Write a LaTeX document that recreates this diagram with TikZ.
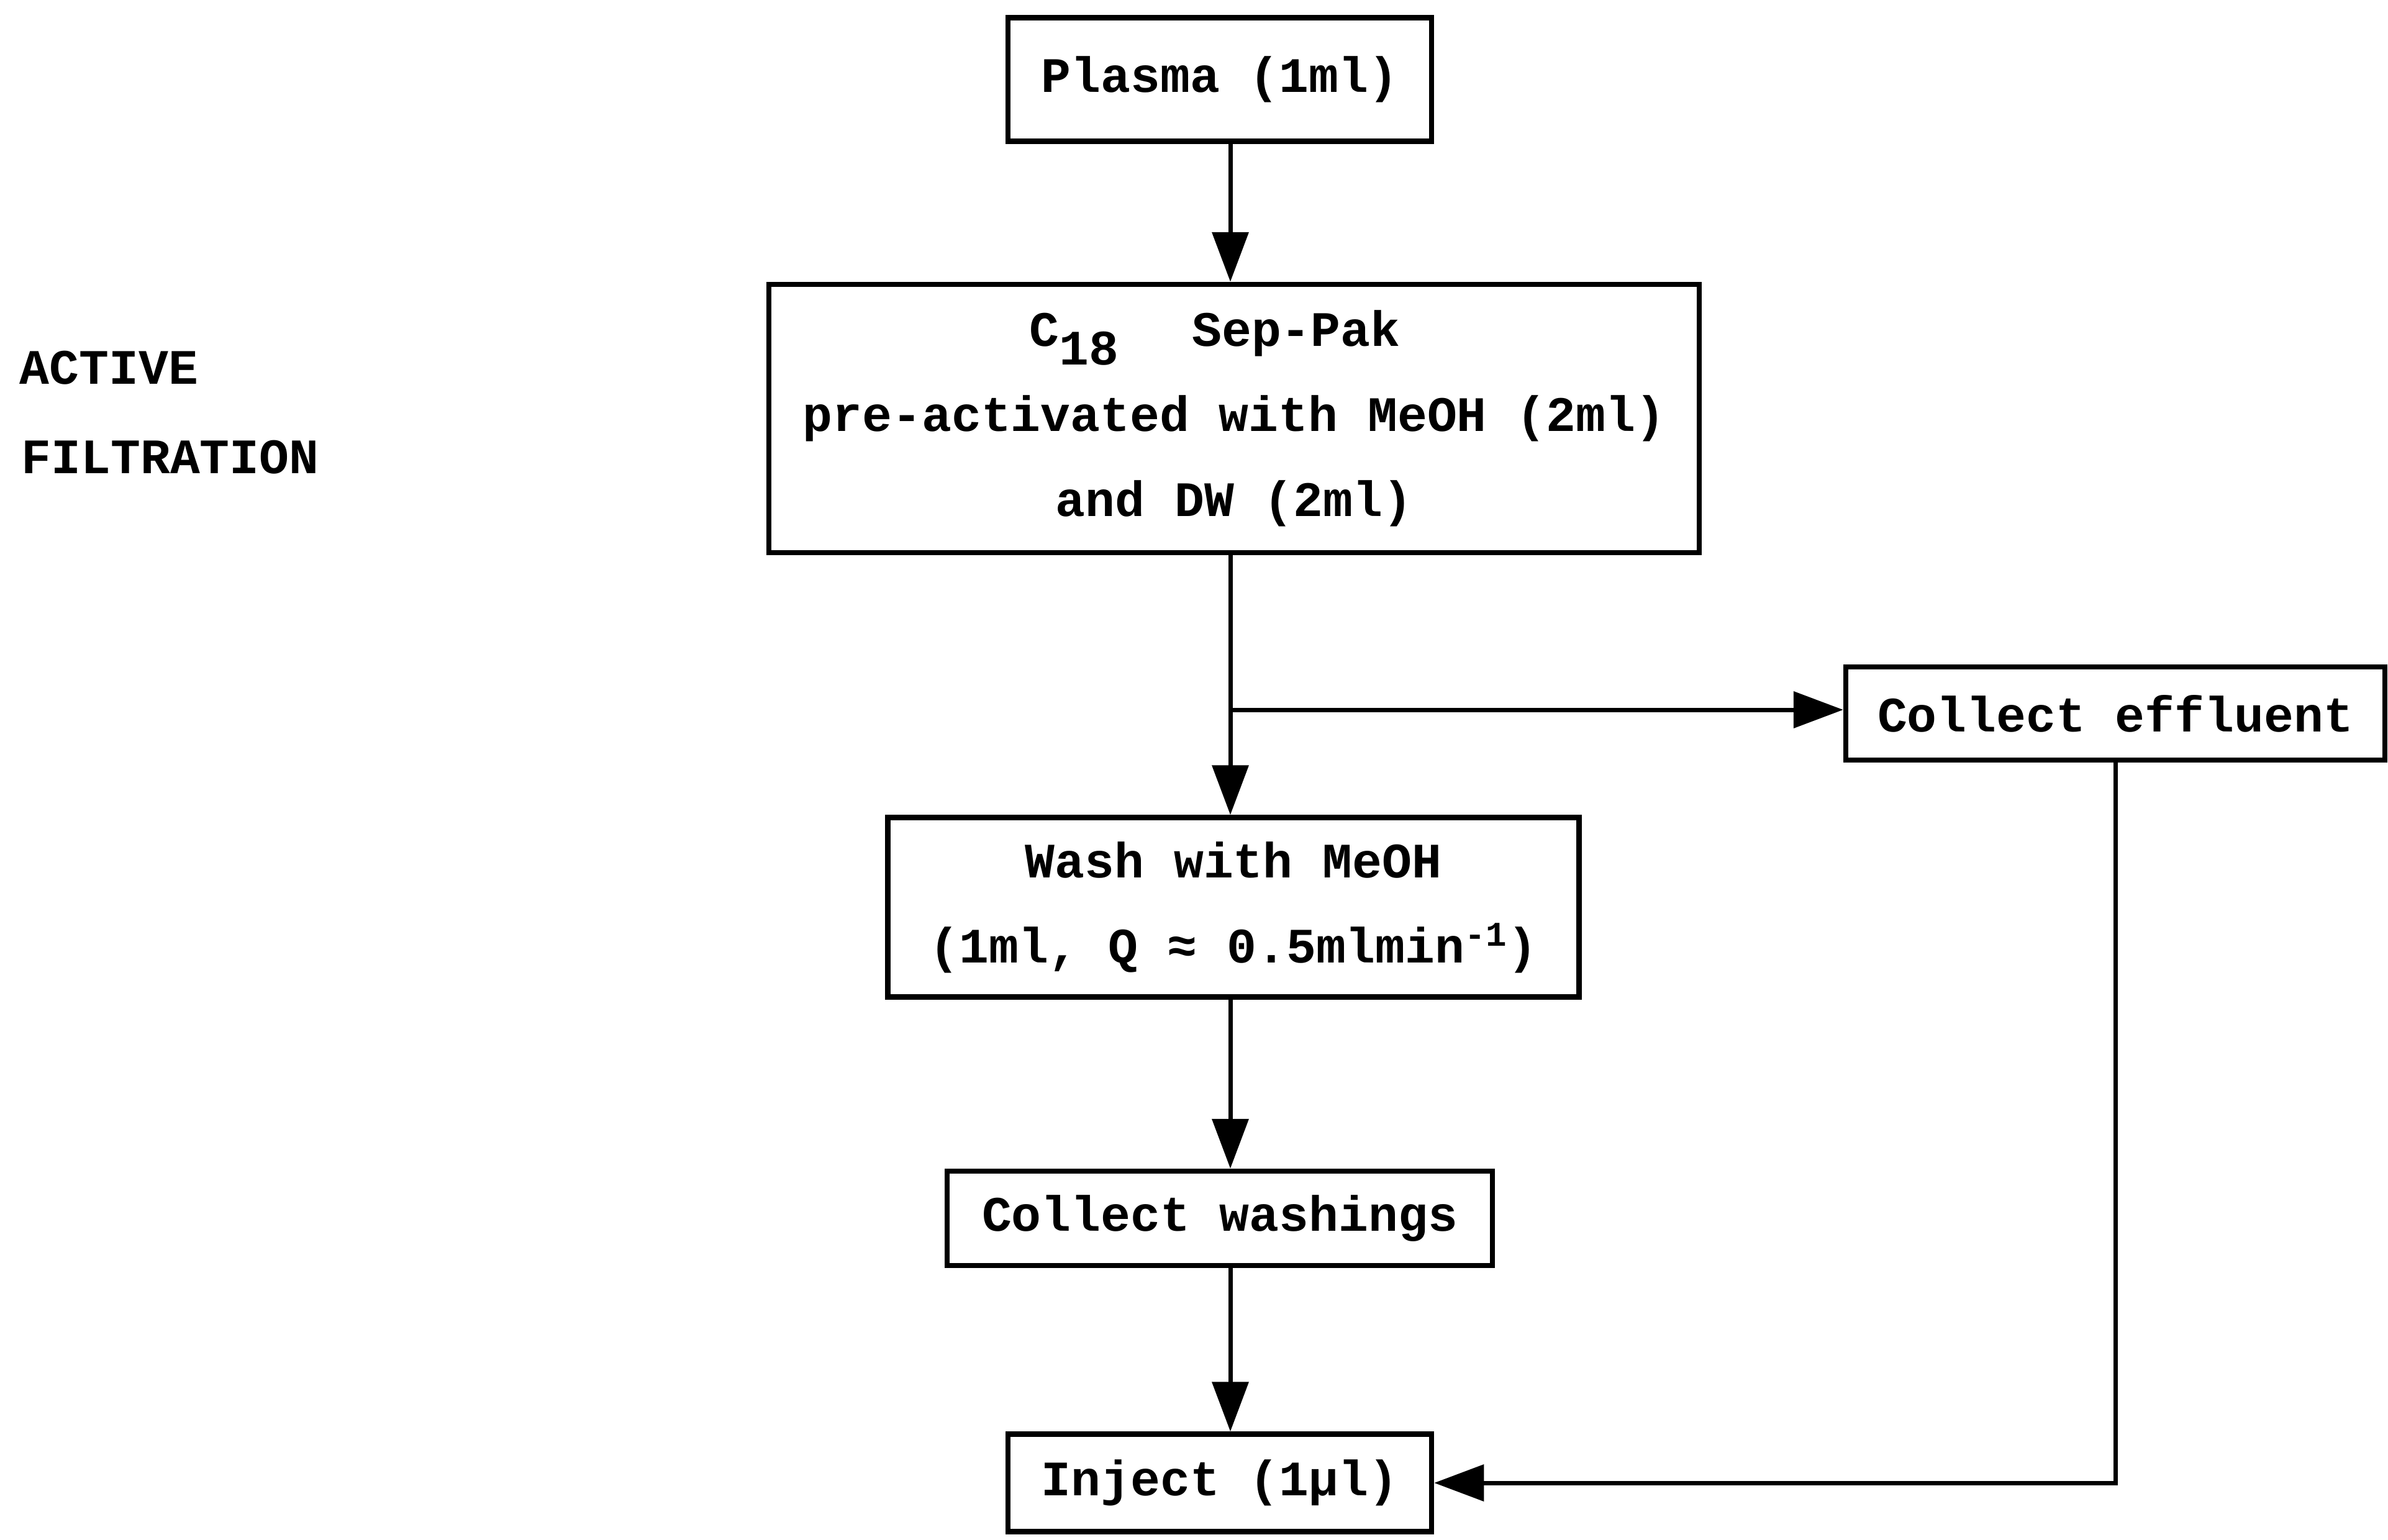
\documentclass[tikz,border=0pt]{standalone}
\usepackage{fontspec}
\setmonofont{Liberation Mono}
\usepackage{tikz}
\usetikzlibrary{arrows.meta}

\begin{document}
\begin{tikzpicture}[font=\ttfamily\bfseries\fontsize{22.7}{39}\selectfont,
    box/.style={draw, line width=2.4pt, align=center, inner sep=0pt},
    flow/.style={line width=2pt, -{Triangle[length=0.8cm, width=0.58cm]}}]
    \useasboundingbox (0,0) rectangle (38.45,-24.79);

    \node[box, minimum width=6.82cm,  minimum height=1.99cm]  (plasma)   at (19.64,  -1.28)  {Plasma (1ml)};
    \node[box, minimum width=14.98cm, minimum height=4.32cm]  (sep)      at (19.87,  -6.74)  {C\raisebox{-0.7ex}{18}\hspace{1.18cm}Sep-Pak\hspace{0.62cm} \\ pre-activated with MeOH (2ml) \\ and DW (2ml)};
    \node[box, minimum width=8.68cm,  minimum height=1.50cm]  (effluent) at (34.06, -11.49)  {Collect effluent};
    \node[box, minimum width=11.13cm, minimum height=2.89cm]  (wash)     at (19.86, -14.61)  {Wash with MeOH \\ (1ml, Q ≈ 0.5mlmin\textsuperscript{-1})};
    \node[box, minimum width=8.78cm,  minimum height=1.52cm]  (washings) at (19.64, -19.62)  {Collect washings};
    \node[box, minimum width=6.82cm,  minimum height=1.57cm]  (inject)   at (19.64, -23.88)  {Inject (1µl)};

    \node[anchor=base west, inner sep=0pt] (active)     at (0.31, -6.18) {ACTIVE};
    \node[anchor=base west, inner sep=0pt] (filtration) at (0.34, -7.62) {FILTRATION};

    % spine of the main column and the split to the effluent
    \coordinate (spine) at (19.81, 0);
    \coordinate (split) at (19.81, -11.43);

    \draw[flow] (plasma.south -| spine)   -- (sep.north -| spine);
    \draw[flow] (sep.south -| spine)      -- (wash.north -| spine);
    \draw[flow] (split)                   -- (split -| effluent.west);
    \draw[flow] (wash.south -| spine)     -- (washings.north -| spine);
    \draw[flow] (washings.south -| spine) -- (inject.north -| spine);
    \draw[flow] (effluent.south) |- (inject.east);
\end{tikzpicture}
\end{document}
